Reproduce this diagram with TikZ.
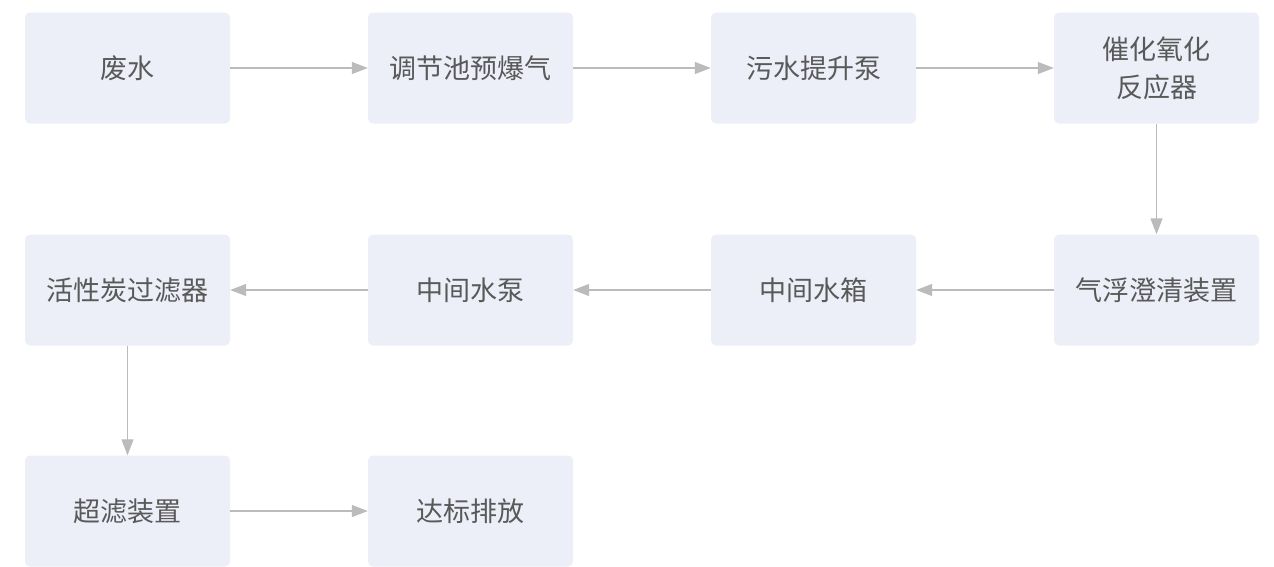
\documentclass[tikz,border=0pt]{standalone}
\usepackage{fontspec}
\setmainfont{Noto Sans CJK SC}
\usetikzlibrary{arrows.meta}
\definecolor{boxfill}{HTML}{ECEEF8}
\definecolor{txt}{HTML}{595959}
\definecolor{lnc}{HTML}{BBBBBB}
\begin{document}
\begin{tikzpicture}[x=1pt,y=-1pt,
  box/.style={fill=boxfill,draw=none,rounded corners=5pt,minimum width=205pt,minimum height=111pt,inner sep=0pt,
    text=txt,font=\fontsize{27pt}{38pt}\selectfont,align=center},
  flow/.style={draw=lnc,line width=1.2pt,-{Triangle[length=16pt,width=12pt]}}]
\useasboundingbox (0,0) rectangle (1274,566);
\node[box] (a) at (127.5,68) {废水};
\node[box] (b) at (470.5,68) {调节池预爆气};
\node[box] (c) at (813.5,68) {污水提升泵};
\node[box] (d) at (1156.5,68) {催化氧化\\反应器};
\node[box] (e) at (1156.5,290) {气浮澄清装置};
\node[box] (f) at (813.5,290) {中间水箱};
\node[box] (g) at (470.5,290) {中间水泵};
\node[box] (h) at (127.5,290) {活性炭过滤器};
\node[box] (i) at (127.5,511) {超滤装置};
\node[box] (j) at (470.5,511) {达标排放};
\draw[flow] (a) -- (b);
\draw[flow] (b) -- (c);
\draw[flow] (c) -- (d);
\draw[flow] (d) -- (e);
\draw[flow] (e) -- (f);
\draw[flow] (f) -- (g);
\draw[flow] (g) -- (h);
\draw[flow] (h) -- (i);
\draw[flow] (i) -- (j);
\end{tikzpicture}
\end{document}
